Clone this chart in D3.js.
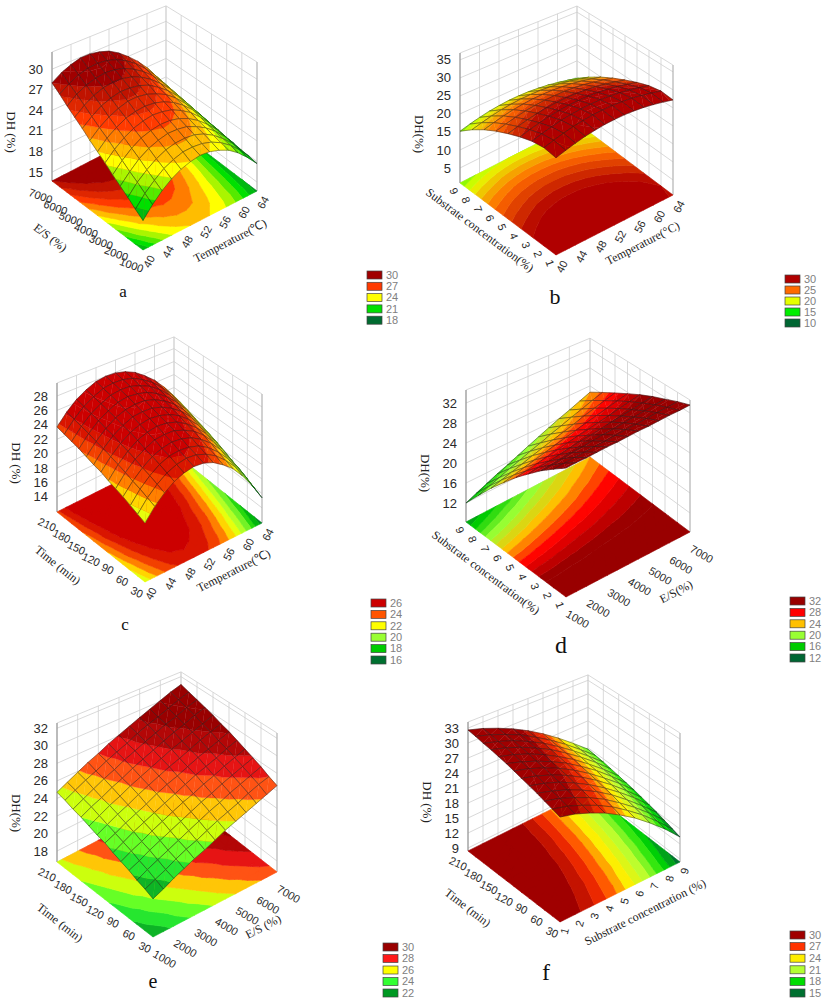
<!DOCTYPE html>
<html>
<head>
<meta charset="utf-8"/>
<script src="https://cdn.jsdelivr.net/npm/d3@7"></script>
<style>
  body { margin:0; background:#fff }
  .tick { font: 11px "Liberation Sans", Arial, sans-serif; fill:#2a2a2a }
  .ztick { font: 13px "Liberation Sans", Arial, sans-serif; fill:#2a2a2a }
  .title { font: 12px "Liberation Serif", "Times New Roman", serif; fill:#222 }
  .letter { font-family: "Liberation Serif", "Times New Roman", serif; fill:#111 }
  .legt { font: 11px "Liberation Sans", Arial, sans-serif; fill:#808080 }
</style>
</head>
<body>
<script>
// grid values of the factors
const tempVals = [40,42,44,46,48,50,52,54,56,58,60,62,64];
const esVals = [1000,1500,2000,2500,3000,3500,4000,4500,5000,5500,6000,6500,7000];
const timeVals = [30,45,60,75,90,105,120,135,150,165,180,195,210];
const concVals = [1,2,3,4,5,6,7,8,9];

// axis ticks
const tempTicks = [40,44,48,52,56,60,64];
const esTicks = [1000,2000,3000,4000,5000,6000,7000];
const timeTicks = [30,60,90,120,150,180,210];
const concTicks = [1,2,3,4,5,6,7,8,9];
const zTicksA = [15,18,21,24,27,30];
const zTicksB = [5,10,15,20,25,30,35];
const zTicksC = [14,16,18,20,22,24,26,28];
const zTicksD = [12,16,20,24,28,32];
const zTicksE = [18,20,22,24,26,28,30,32];
const zTicksF = [9,12,15,18,21,24,27,30,33];

// legend levels
const levelsA = [30,27,24,21,18];
const levelsB = [30,25,20,15,10];
const levelsC = [26,24,22,20,18,16];
const levelsD = [32,28,24,20,16,12];
const levelsE = [30,28,26,24,22];
const levelsF = [30,27,24,21,18,15];

// DH (%) read off the surfaces: rows = left axis, columns = right axis
// a: rows E/S 1000..7000, cols temperature 40..64
const dhA = [
  [18.0,19.6,20.9,21.9,22.6,23.0,23.2,23.0,22.5,21.8,20.7,19.3,17.7],
  [18.8,20.4,21.6,22.6,23.2,23.6,23.6,23.4,22.9,22.1,21.0,19.6,17.9],
  [19.7,21.2,22.3,23.2,23.8,24.1,24.1,23.9,23.3,22.4,21.2,19.8,18.0],
  [20.5,21.9,23.1,23.9,24.4,24.7,24.6,24.3,23.6,22.7,21.5,20.0,18.2],
  [21.3,22.7,23.8,24.6,25.0,25.2,25.1,24.7,24.0,23.0,21.7,20.2,18.3],
  [22.2,23.5,24.5,25.2,25.6,25.8,25.6,25.2,24.4,23.4,22.0,20.4,18.5],
  [23.0,24.3,25.2,25.9,26.2,26.3,26.1,25.6,24.8,23.7,22.3,20.6,18.6],
  [23.8,25.0,25.9,26.5,26.9,26.9,26.6,26.0,25.2,24.0,22.5,20.8,18.8],
  [24.7,25.8,26.7,27.2,27.5,27.4,27.1,26.5,25.5,24.3,22.8,21.0,18.9],
  [25.5,26.6,27.4,27.9,28.1,28.0,27.6,26.9,25.9,24.6,23.1,21.2,19.1],
  [26.3,27.4,28.1,28.5,28.7,28.5,28.1,27.3,26.3,25.0,23.3,21.4,19.2],
  [27.2,28.1,28.8,29.2,29.3,29.1,28.6,27.8,26.7,25.3,23.6,21.6,19.4],
  [28.0,28.9,29.5,29.9,29.9,29.6,29.1,28.2,27.0,25.6,23.9,21.8,19.5]
];
// b: rows substrate 1..9, cols temperature 40..64
const dhB = [
  [27.8,28.5,29.1,29.6,29.9,30.1,30.1,30.0,29.7,29.3,28.7,28.0,27.2],
  [28.1,28.8,29.4,29.9,30.2,30.4,30.4,30.3,30.0,29.6,29.0,28.3,27.5],
  [27.4,28.1,28.7,29.2,29.5,29.7,29.7,29.6,29.3,28.9,28.3,27.6,26.8],
  [26.1,26.8,27.4,27.9,28.2,28.4,28.4,28.3,28.0,27.6,27.0,26.3,25.5],
  [24.5,25.2,25.8,26.3,26.6,26.8,26.8,26.7,26.4,26.0,25.4,24.7,23.9],
  [22.7,23.4,24.0,24.5,24.8,25.0,25.0,24.9,24.6,24.2,23.6,22.9,22.1],
  [20.6,21.3,21.9,22.4,22.7,22.9,22.9,22.8,22.5,22.1,21.5,20.8,20.0],
  [18.1,18.8,19.4,19.9,20.2,20.4,20.4,20.3,20.0,19.6,19.0,18.3,17.5],
  [15.2,15.9,16.5,17.0,17.3,17.5,17.5,17.4,17.1,16.7,16.1,15.4,14.6]
];
// c: rows time 30..210, cols temperature 40..64
const dhC = [
  [20.1,21.7,22.9,23.8,24.3,24.5,24.3,23.7,22.7,21.5,19.8,17.8,15.4],
  [20.5,22.1,23.3,24.2,24.7,24.9,24.7,24.1,23.2,21.9,20.3,18.3,15.9],
  [20.9,22.5,23.7,24.6,25.1,25.2,25.0,24.5,23.6,22.3,20.7,18.8,16.5],
  [21.3,22.8,24.0,24.9,25.4,25.6,25.4,24.9,24.0,22.8,21.2,19.2,17.0],
  [21.6,23.2,24.4,25.2,25.8,25.9,25.8,25.2,24.4,23.2,21.6,19.7,17.4],
  [21.9,23.5,24.7,25.6,26.1,26.3,26.1,25.6,24.7,23.5,22.0,20.1,17.9],
  [22.3,23.8,25.0,25.9,26.4,26.6,26.4,25.9,25.1,23.9,22.4,20.5,18.4],
  [22.5,24.1,25.3,26.1,26.7,26.8,26.7,26.2,25.4,24.3,22.8,20.9,18.8],
  [22.8,24.3,25.5,26.4,26.9,27.1,27.0,26.5,25.7,24.6,23.1,21.3,19.2],
  [23.1,24.6,25.8,26.6,27.2,27.4,27.2,26.8,26.0,24.9,23.5,21.7,19.6],
  [23.3,24.8,26.0,26.8,27.4,27.6,27.5,27.0,26.3,25.2,23.8,22.0,20.0],
  [23.5,25.0,26.2,27.0,27.6,27.8,27.7,27.3,26.5,25.5,24.1,22.4,20.4],
  [23.7,25.2,26.4,27.2,27.8,28.0,27.9,27.5,26.8,25.7,24.4,22.7,20.7]
];
// d: rows substrate 1..9, cols E/S 1000..7000
const dhD = [
  [34.0,34.0,33.9,33.9,33.9,33.8,33.8,33.8,33.7,33.7,33.7,33.6,33.6],
  [31.9,32.0,32.1,32.1,32.2,32.2,32.3,32.4,32.4,32.5,32.6,32.6,32.7],
  [29.7,29.8,30.0,30.2,30.3,30.5,30.7,30.8,31.0,31.1,31.3,31.5,31.6],
  [27.2,27.5,27.7,28.0,28.3,28.6,28.8,29.1,29.4,29.6,29.9,30.2,30.5],
  [24.6,24.9,25.3,25.7,26.1,26.5,26.9,27.2,27.6,28.0,28.4,28.8,29.2],
  [21.7,22.2,22.7,23.2,23.7,24.2,24.7,25.2,25.7,26.2,26.7,27.2,27.7],
  [18.7,19.3,19.9,20.5,21.2,21.8,22.4,23.0,23.6,24.3,24.9,25.5,26.1],
  [15.4,16.2,16.9,17.7,18.4,19.2,19.9,20.7,21.4,22.2,22.9,23.7,24.4],
  [12.0,12.9,13.8,14.7,15.5,16.4,17.3,18.2,19.1,20.0,20.8,21.7,22.6]
];
// e: rows time 30..210, cols E/S 1000..7000
const dhE = [
  [21.1,21.6,22.2,22.7,23.2,23.6,24.1,24.6,25.0,25.4,25.8,26.2,26.6],
  [21.5,22.0,22.5,23.1,23.6,24.0,24.5,25.0,25.4,25.8,26.3,26.7,27.0],
  [21.8,22.4,22.9,23.4,23.9,24.4,24.9,25.4,25.8,26.3,26.7,27.1,27.5],
  [22.2,22.7,23.3,23.8,24.3,24.8,25.3,25.8,26.2,26.7,27.1,27.5,27.9],
  [22.5,23.1,23.6,24.2,24.7,25.2,25.7,26.1,26.6,27.0,27.5,27.9,28.3],
  [22.8,23.4,24.0,24.5,25.0,25.5,26.0,26.5,27.0,27.4,27.8,28.3,28.7],
  [23.2,23.7,24.3,24.8,25.3,25.9,26.4,26.8,27.3,27.8,28.2,28.6,29.1],
  [23.4,24.0,24.6,25.1,25.7,26.2,26.7,27.2,27.6,28.1,28.6,29.0,29.4],
  [23.7,24.3,24.9,25.4,26.0,26.5,27.0,27.5,28.0,28.4,28.9,29.3,29.8],
  [24.0,24.6,25.1,25.7,26.2,26.8,27.3,27.8,28.3,28.8,29.2,29.7,30.1],
  [24.2,24.8,25.4,26.0,26.5,27.1,27.6,28.1,28.6,29.1,29.5,30.0,30.4],
  [24.5,25.1,25.7,26.2,26.8,27.3,27.8,28.4,28.9,29.3,29.8,30.3,30.7],
  [24.7,25.3,25.9,26.5,27.0,27.6,28.1,28.6,29.1,29.6,30.1,30.6,31.0]
];
// f: rows time 30..210, cols substrate 1..9
const dhF = [
  [29.4,28.5,27.2,25.7,23.8,21.7,19.2,16.5,13.4],
  [29.8,28.9,27.6,26.1,24.3,22.1,19.7,16.9,13.9],
  [30.2,29.3,28.0,26.5,24.7,22.5,20.1,17.4,14.4],
  [30.6,29.6,28.4,26.9,25.1,23.0,20.5,17.8,14.9],
  [30.9,30.0,28.8,27.2,25.4,23.3,20.9,18.3,15.3],
  [31.2,30.3,29.1,27.6,25.8,23.7,21.3,18.6,15.7],
  [31.5,30.6,29.4,27.9,26.1,24.0,21.6,19.0,16.1],
  [31.8,30.8,29.6,28.1,26.4,24.3,22.0,19.3,16.4],
  [32.0,31.1,29.9,28.4,26.6,24.6,22.2,19.6,16.7],
  [32.2,31.3,30.1,28.6,26.9,24.8,22.5,19.9,17.0],
  [32.3,31.4,30.3,28.8,27.1,25.0,22.7,20.1,17.3],
  [32.5,31.6,30.4,29.0,27.2,25.2,22.9,20.3,17.5],
  [32.6,31.7,30.5,29.1,27.4,25.4,23.1,20.5,17.7]
];

// legend colours, top box first
const colorsA = ["#a00000","#ff3a00","#ffff00","#00e000","#006b30"];
const colorsB = ["#b00000","#ff6a00","#e6ff00","#00ee00","#006633"];
const colorsC = ["#cc0000","#ff5500","#ffff00","#99ff33","#00cc00","#007030"];
const colorsD = ["#990000","#ff0000","#ffc000","#99ff33","#00cc00","#006633"];
const colorsE = ["#990000","#ff1a1a","#ffff00","#33ff33","#009922"];
const colorsF = ["#a00000","#ff3300","#ffee00","#b3ff33","#00dd00","#007030"];

const panels = [
  {z:dhA, xv:tempVals, yv:esVals, xt:tempTicks, yt:esTicks, zt:zTicksA, lv:levelsA, colors:colorsA,
   F:[143,250], R:[257,191], L:[52,181], H:129, zDom:[13.7,32.5], band:1,
   la:20, ra:-62, rx:0, xTitle:"Temperature(℃)", yTitle:"E/S (%)", zTitle:"DH (%)",
   lt:[-47,22], rt:[30,20], leg:[367,275,11.3], letter:["a",123,297,17]},
  {z:dhB, xv:tempVals, yv:concVals, xt:tempTicks, yt:concTicks, zt:zTicksB, lv:levelsB, colors:colorsB,
   F:[556,255], R:[673,195], L:[460,183], H:130, zDom:[0.83,36.9], band:1.25,
   la:70, ra:-62, rx:0, xTitle:"Temperature(°C)", yTitle:"Substrate concentration(%)", zTitle:"DH(%)",
   lt:[-28,11], rt:[28,18], leg:[785,279,11], letter:["b",555,304,22]},
  {z:dhC, xv:tempVals, yv:timeVals, xt:tempTicks, yt:timeTicks, zt:zTicksC, lv:levelsC, colors:colorsC,
   F:[145,582], R:[262,523], L:[57,512], H:129, zDom:[11.9,29.8], band:1,
   la:25, ra:-62, rx:0, xTitle:"Temperature(℃)", yTitle:"Time (min)", zTitle:"DH (%)",
   lt:[-43,18], rt:[30,18], leg:[371,603,11.4], letter:["c",125,630,17]},
  {z:dhD, xv:esVals, yv:concVals, xt:esTicks, yt:concTicks, zt:zTicksD, lv:levelsD, colors:colorsD,
   F:[566,597], R:[690,532], L:[466,522], H:132, zDom:[8.2,34.6], band:1.33,
   la:70, ra:30, rx:6, xTitle:"E/S(%)", yTitle:"Substrate concentration(%)", zTitle:"DH(%)",
   lt:[-30,13], rt:[48,27], leg:[790,601,11.4], letter:["d",561,653,24]},
  {z:dhE, xv:esVals, yv:timeVals, xt:esTicks, yt:timeTicks, zt:zTicksE, lv:levelsE, colors:colorsE,
   F:[153,937], R:[277,872], L:[57,862], H:139, zDom:[16.75,32.6], band:1,
   la:25, ra:30, rx:6, xTitle:"E/S (%)", yTitle:"Time (min)", zTitle:"DH(%)",
   lt:[-45,23], rt:[48,22], leg:[383,947,11.5], letter:["e",153,988,20]},
  {z:dhF, xv:concVals, yv:timeVals, xt:concTicks, yt:timeTicks, zt:zTicksF, lv:levelsF, colors:colorsF,
   F:[560,922], R:[680,862], L:[468,851], H:129, zDom:[8.4,34.2], band:1.25,
   la:25, ra:-75, rx:0, xTitle:"Substrate concentration (%)", yTitle:"Time (min)", zTitle:"DH (%)",
   lt:[-46,21], rt:[25,20], leg:[790,935,11.6], letter:["f",546,980,24]}
];

const svg = d3.select("body").append("svg").attr("width", 827).attr("height", 1000);
const line = d3.line();

// keep the part of a polygon above (or below) a level, values linear along edges
function clip(poly, t, above) {
  const out = [];
  for (let k = 0; k < poly.length; k++) {
    const a = poly[k], b = poly[(k + 1) % poly.length];
    const ina = above ? a[2] >= t : a[2] <= t;
    const inb = above ? b[2] >= t : b[2] <= t;
    if (ina) out.push(a);
    if (ina !== inb) {
      const f = (t - a[2]) / (b[2] - a[2]);
      out.push([a[0] + f * (b[0] - a[0]), a[1] + f * (b[1] - a[1]), t]);
    }
  }
  return out;
}

function unit(a, b) {
  const dx = b[0] - a[0], dy = b[1] - a[1], n = Math.hypot(dx, dy);
  return [dx / n, dy / n];
}

function drawPanel(p) {
  const g = svg.append("g");
  const F = p.F, R = p.R, L = p.L;
  const us = d3.scaleLinear().domain(d3.extent(p.xv)).range([0, 1]);
  const vs = d3.scaleLinear().domain(d3.extent(p.yv)).range([0, 1]);
  const zs = d3.scaleLinear().domain(p.zDom).range([0, p.H]);
  const pt = (u, v, h) => {
    const k = 1 - 0.1 * u * v;
    return [F[0] + u * (R[0] - F[0]) + v * (L[0] - F[0]),
            F[1] + u * (R[1] - F[1]) + v * (L[1] - F[1]) - h * k];
  };

  const asc = p.lv.slice().reverse();
  const step = asc[1] - asc[0];
  const col = d3.scaleLinear().domain(asc.map(l => l - step / 2))
    .range(p.colors.slice().reverse()).clamp(true);
  const th = d3.range(asc[0] - 4 * step, asc[asc.length - 1] + 4 * step, p.band);

  function bands(tri) {
    const lo = d3.min(tri, d => d[2]), hi = d3.max(tri, d => d[2]);
    const out = [];
    for (let k = 0; k < th.length - 1; k++) {
      if (th[k + 1] < lo || th[k] > hi) continue;
      const poly = clip(clip(tri, th[k], true), th[k + 1], false);
      if (poly.length >= 3) out.push({poly: poly, c: col((th[k] + th[k + 1]) / 2)});
    }
    return out;
  }

  // back walls
  const wall = g.append("g").attr("fill", "none").attr("stroke", "#cfcfcf").attr("stroke-width", 0.8);
  p.zt.forEach(z => wall.append("path").attr("d", line([pt(0, 1, zs(z)), pt(1, 1, zs(z)), pt(1, 0, zs(z))])));
  p.xt.forEach(x => wall.append("path").attr("d", line([pt(us(x), 1, 0), pt(us(x), 1, p.H)])));
  p.yt.forEach(y => wall.append("path").attr("d", line([pt(1, vs(y), 0), pt(1, vs(y), p.H)])));
  wall.append("path").attr("d", line([pt(0, 1, p.H), pt(1, 1, p.H), pt(1, 0, p.H)]));
  wall.append("path").attr("d", line([pt(0, 1, 0), pt(1, 1, 0), pt(1, 0, 0)]));
  wall.append("path").attr("d", line([pt(1, 0, 0), pt(1, 0, p.H)])).attr("stroke", "#aaa");
  g.append("path").attr("d", line([pt(0, 1, 0), pt(0, 1, p.H)]))
    .attr("stroke", "#8a8a8a").attr("stroke-width", 1).attr("fill", "none");

  // cells of the grid
  const cells = [];
  for (let j = 0; j < p.yv.length - 1; j++) {
    for (let i = 0; i < p.xv.length - 1; i++) {
      const q = [[i, j], [i + 1, j], [i + 1, j + 1], [i, j + 1]]
        .map(([a, b]) => [us(p.xv[a]), vs(p.yv[b]), p.z[b][a]]);
      const uc = (q[0][0] + q[1][0]) / 2, vc = (q[0][1] + q[3][1]) / 2;
      cells.push({q: q, depth: (F[0] - L[0]) * uc + (R[0] - F[0]) * vc});
    }
  }

  // floor contour
  const byColor = new Map();
  cells.forEach(c => {
    const q = c.q;
    [[q[0], q[1], q[2]], [q[0], q[2], q[3]]].forEach(tri => bands(tri).forEach(b => {
      const d = line(b.poly.map(d => pt(d[0], d[1], 0))) + "Z";
      byColor.set(b.c, (byColor.get(b.c) || "") + d);
    }));
  });
  const floor = g.append("g");
  byColor.forEach((d, c) => floor.append("path").attr("d", d).attr("fill", c)
    .attr("stroke", c).attr("stroke-width", 0.6));

  // surface, far cells first
  const surf = g.append("g");
  cells.sort((a, b) => b.depth - a.depth).forEach(c => {
    const q = c.q;
    [[q[0], q[1], q[2]], [q[0], q[2], q[3]]].forEach(tri => bands(tri).forEach(b => {
      surf.append("path").attr("d", line(b.poly.map(d => pt(d[0], d[1], zs(d[2])))) + "Z")
        .attr("fill", b.c).attr("stroke", b.c).attr("stroke-width", 0.35);
    }));
    surf.append("path").attr("d", line(q.map(d => pt(d[0], d[1], zs(d[2])))) + "Z")
      .attr("fill", "none").attr("stroke", "#1c1c1c").attr("stroke-width", 0.5).attr("stroke-opacity", 0.85);
  });

  // z axis labels
  p.zt.forEach(z => {
    const a = pt(0, 1, zs(z));
    g.append("text").attr("class", "ztick").attr("x", a[0] - 9).attr("y", a[1])
      .attr("dy", "0.35em").attr("text-anchor", "end").text(z);
  });

  // floor axis labels
  const eL = unit(L, F), eR = unit(F, R);
  const nL = [-eL[1], eL[0]], nR = [-eR[1], eR[0]];
  p.yt.forEach(y => {
    const a = pt(0, vs(y), 0), s = String(y), d = 7 + 3 * s.length;
    g.append("text").attr("class", "tick").attr("text-anchor", "middle").attr("dy", "0.35em")
      .attr("transform", `translate(${a[0] + nL[0] * d},${a[1] + nL[1] * d}) rotate(${p.la})`).text(s);
  });
  p.xt.forEach(x => {
    const a = pt(us(x), 0, 0), s = String(x), d = 7 + 3 * s.length + p.rx;
    g.append("text").attr("class", "tick").attr("text-anchor", "middle").attr("dy", "0.35em")
      .attr("transform", `translate(${a[0] + nR[0] * d},${a[1] + nR[1] * d}) rotate(${p.ra})`).text(s);
  });

  // axis titles
  const angL = Math.atan2(F[1] - L[1], F[0] - L[0]) * 180 / Math.PI;
  const angR = Math.atan2(R[1] - F[1], R[0] - F[0]) * 180 / Math.PI;
  g.append("text").attr("class", "title").attr("text-anchor", "middle").attr("dy", "0.35em")
    .attr("transform", `translate(${(L[0] + F[0]) / 2 + p.lt[0]},${(L[1] + F[1]) / 2 + p.lt[1]}) rotate(${angL})`)
    .text(p.yTitle);
  g.append("text").attr("class", "title").attr("text-anchor", "middle").attr("dy", "0.35em")
    .attr("transform", `translate(${(F[0] + R[0]) / 2 + p.rt[0]},${(F[1] + R[1]) / 2 + p.rt[1]}) rotate(${angR})`)
    .text(p.xTitle);
  g.append("text").attr("class", "title").style("font-size", "13px").attr("text-anchor", "middle")
    .attr("dy", "0.35em").attr("transform", `translate(${L[0] - 40},${L[1] - 49}) rotate(90)`)
    .text(p.zTitle);

  // legend
  p.lv.forEach((l, k) => {
    const y = p.leg[1] + k * p.leg[2];
    g.append("rect").attr("x", p.leg[0]).attr("y", y - 4).attr("width", 15).attr("height", 8)
      .attr("fill", p.colors[k]).attr("stroke", "#444").attr("stroke-width", 0.7);
    g.append("text").attr("class", "legt").attr("x", p.leg[0] + 19).attr("y", y)
      .attr("dy", "0.35em").text(l);
  });

  g.append("text").attr("class", "letter").attr("x", p.letter[1]).attr("y", p.letter[2])
    .attr("text-anchor", "middle").style("font-size", p.letter[3] + "px").text(p.letter[0]);
}

panels.forEach(drawPanel);
</script>
</body>
</html>
